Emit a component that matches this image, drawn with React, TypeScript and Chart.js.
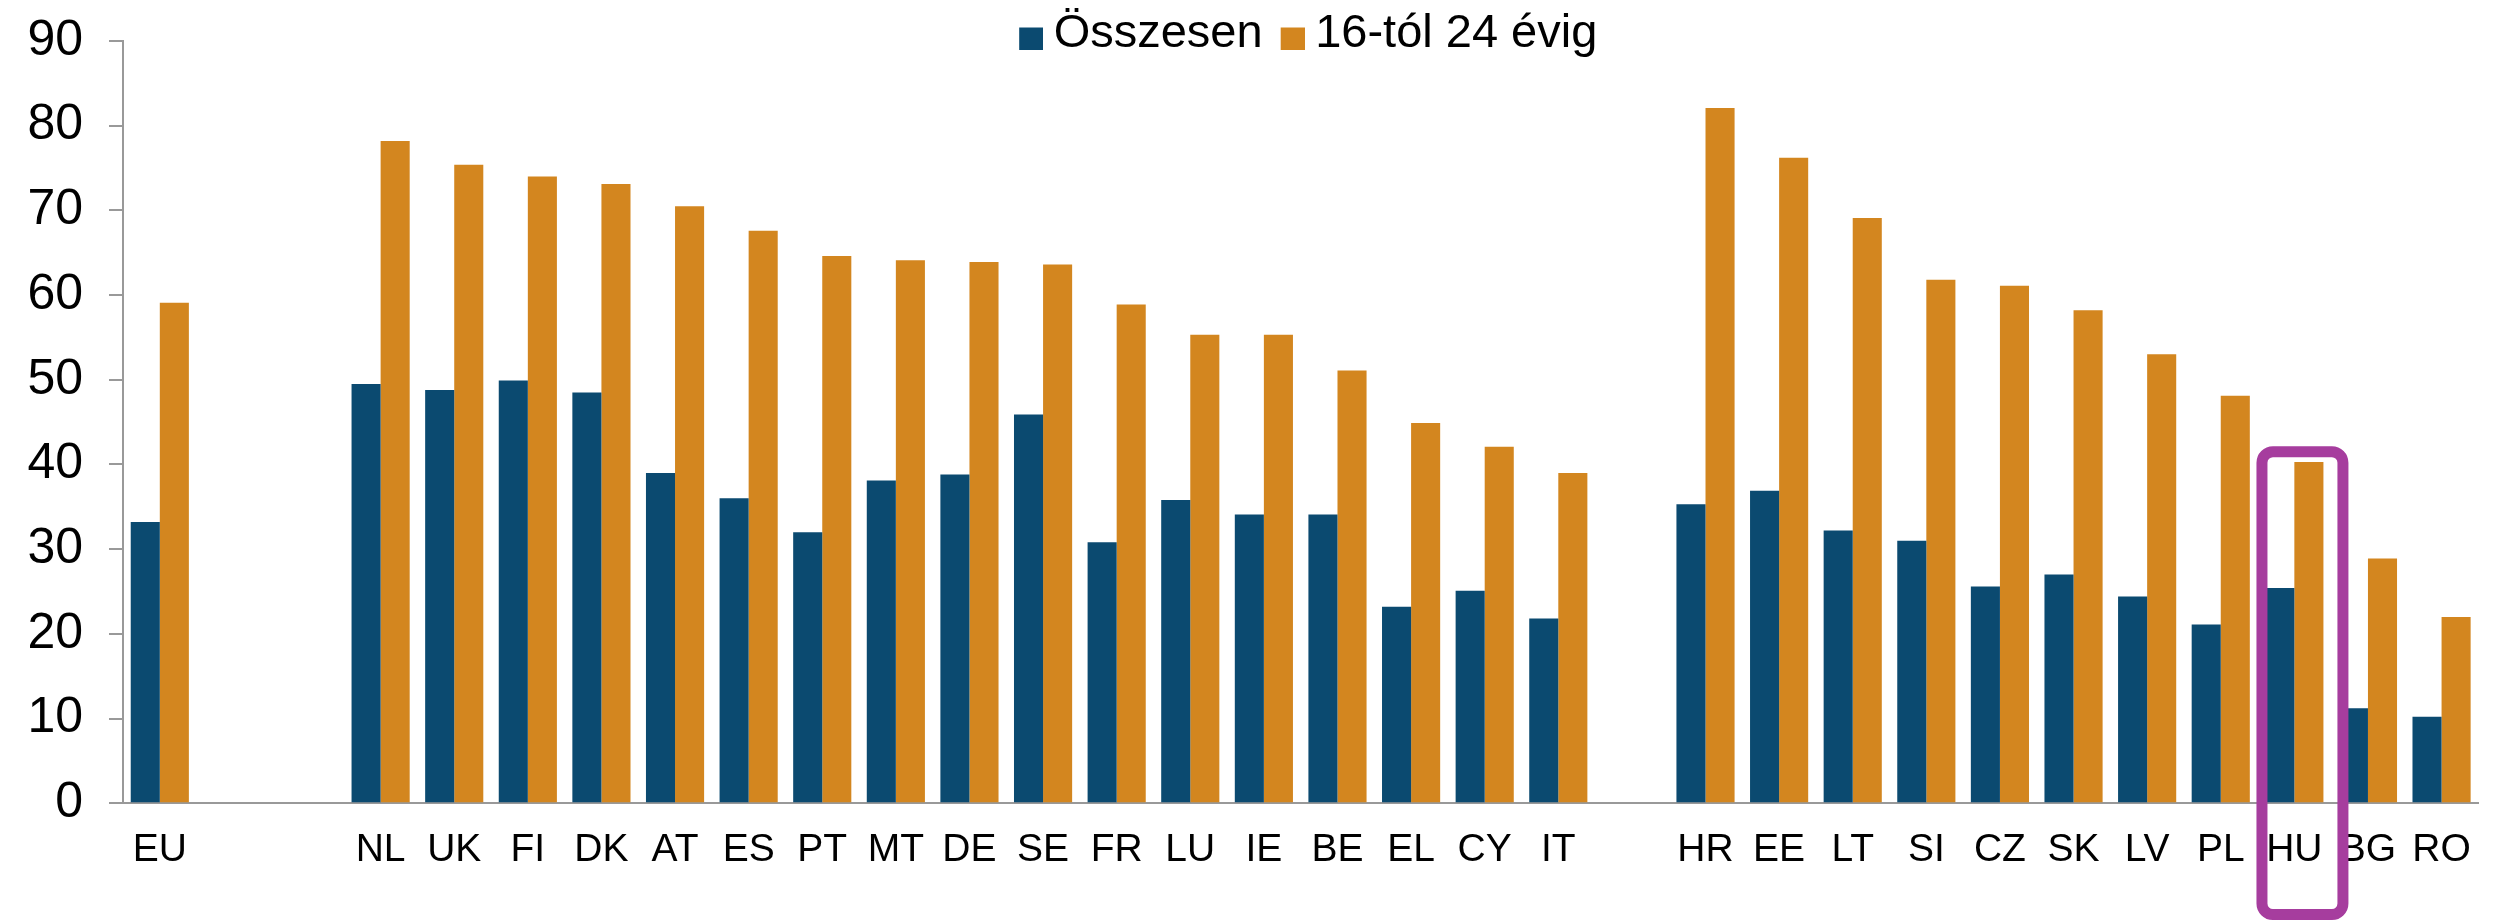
import React, { useEffect, useRef } from 'react';
import { Chart, registerables } from 'chart.js';

Chart.register(...registerables);

const categories = ['EU', '', '', 'NL', 'UK', 'FI', 'DK', 'AT', 'ES', 'PT', 'MT', 'DE', 'SE', 'FR', 'LU', 'IE', 'BE', 'EL', 'CY', 'IT', '', 'HR', 'EE', 'LT', 'SI', 'CZ', 'SK', 'LV', 'PL', 'HU', 'BG', 'RO'];
const totalValues = [33.2, null, null, 49.5, 48.8, 49.9, 48.5, 39.0, 36.0, 32.0, 38.1, 38.8, 45.9, 30.8, 35.8, 34.1, 34.1, 23.2, 25.1, 21.8, null, 35.3, 36.9, 32.2, 31.0, 25.6, 27.0, 24.4, 21.1, 25.4, 11.2, 10.2];
const youthValues = [59.1, null, null, 78.2, 75.4, 74.0, 73.1, 70.5, 67.6, 64.6, 64.1, 63.9, 63.6, 58.9, 55.3, 55.3, 51.1, 44.9, 42.1, 39.0, null, 82.1, 76.2, 69.1, 61.8, 61.1, 58.2, 53.0, 48.1, 40.3, 28.9, 22.0];
const seriesLabels = ['Összesen', '16-tól 24 évig'];
const seriesColors = ['#0B4A70', '#D3861F'];
const yMin = 0;
const yMax = 90;
const yStep = 10;
const highlightCategory = 'HU';

const FONT = "'Liberation Sans', Arial, sans-serif";

// legend swatch: a small square, drawn shifted right/down inside a transparent image
function makeSwatch(color: string) {
  const sw = 24;
  const sh = 22;
  const shiftX = 1.5;
  const shiftY = 4;
  const c = document.createElement('canvas');
  c.width = Math.round(sw + 2 * shiftX);
  c.height = Math.round(sh + 2 * shiftY);
  const g = c.getContext('2d') as CanvasRenderingContext2D;
  g.fillStyle = color;
  g.fillRect(c.width - sw, c.height - sh, sw, sh);
  return c;
}

const highlightPlugin = {
  id: 'highlightBox',
  afterDraw(chart: any) {
    const xs = chart.scales.x;
    const ys = chart.scales.y;
    const i = categories.indexOf(highlightCategory);
    if (i < 0) return;
    const w = xs.width / categories.length;
    const cx = xs.getPixelForValue(i);
    const left = cx - 0.44 * w;
    const right = cx + 0.66 * w;
    const top = ys.getPixelForValue((youthValues[i] as number) + 1.2);
    const bottom = chart.height - 6.5;
    const ctx = chart.ctx;
    ctx.save();
    ctx.strokeStyle = '#A63D9E';
    ctx.lineWidth = 11;
    ctx.beginPath();
    ctx.roundRect(left, top, right - left, bottom - top, 11);
    ctx.stroke();
    ctx.restore();
  },
};

function patchLegend(chart: any) {
  const lg = chart.legend;
  if (!lg || lg._patchedFit) return;
  const orig = lg.fit.bind(lg);
  lg.fit = function () {
    orig();
    this._realHeight = this.height;
    this.height = 0;
  };
  lg._patchedFit = true;
}

const legendPlacement = {
  id: 'legendPlacement',
  afterInit(chart: any) {
    patchLegend(chart);
  },
  beforeUpdate(chart: any) {
    patchLegend(chart);
  },
  afterLayout(chart: any) {
    const lg = chart.legend;
    if (!lg || !lg.lineWidths) return;
    const p = lg.options.labels.padding;
    const lw = lg.lineWidths[0];
    const start = (lg.left + p + lg.right - lw) / 2;
    const desiredCenter = 1300;
    const dx = desiredCenter - start - (lw - p - 10.5) / 2;
    const desiredRowY = 3;
    lg.left += dx;
    lg.right += dx;
    lg.top = desiredRowY - p;
    lg.bottom = lg.top + (lg._realHeight || 80) + p;
  },
};

export default function App() {
  const ref = useRef<HTMLCanvasElement | null>(null);

  useEffect(() => {
    if (!ref.current) return;
    const swatches = seriesColors.map(makeSwatch);
    const chart = new Chart(ref.current, {
      type: 'bar',
      data: {
        labels: categories,
        datasets: [
          {
            label: seriesLabels[0],
            data: totalValues,
            backgroundColor: seriesColors[0],
            borderWidth: 0,
            categoryPercentage: 0.79,
            barPercentage: 1.0,
          },
          {
            label: seriesLabels[1],
            data: youthValues,
            backgroundColor: seriesColors[1],
            borderWidth: 0,
            categoryPercentage: 0.79,
            barPercentage: 1.0,
          },
        ],
      },
      options: {
        responsive: false,
        animation: false,
        events: [],
        layout: { padding: { top: 33, right: 12, bottom: 23, left: 0 } },
        plugins: {
          tooltip: { enabled: false },
          title: { display: false },
          legend: {
            display: true,
            position: 'top',
            align: 'center',
            labels: {
              usePointStyle: true,
              boxWidth: 1,
              boxHeight: 22,
              padding: 28,
              color: '#000',
              font: { family: FONT, size: 47 },
              generateLabels(chart: any) {
                const items = (Chart.defaults as any).plugins.legend.labels.generateLabels(chart);
                return items.map((it: any) => ({ ...it, pointStyle: swatches[it.datasetIndex] }));
              },
            },
          },
        },
        scales: {
          x: {
            offset: true,
            grid: { display: false, drawTicks: false },
            border: { display: true, color: '#999', width: 2 },
            ticks: {
              color: '#000',
              padding: 24,
              maxRotation: 0,
              autoSkip: false,
              font: { family: FONT, size: 39 },
            },
          },
          y: {
            min: yMin,
            max: yMax,
            afterFit(scale: any) {
              scale.width = 115;
              scale.paddingTop = 0;
              scale.paddingBottom = 0;
            },
            grid: {
              display: true,
              drawOnChartArea: false,
              drawTicks: true,
              tickLength: 14,
              color: '#999',
              lineWidth: 2,
            },
            border: { display: true, color: '#999', width: 2 },
            ticks: {
              stepSize: yStep,
              color: '#000',
              padding: 26,
              font: { family: FONT, size: 50 },
            },
          },
        },
      },
      plugins: [legendPlacement, highlightPlugin],
    } as any);
    return () => chart.destroy();
  }, []);

  return (
    <div style={{ width: 2487, height: 913 }}>
      <canvas ref={ref} width={2487} height={913} style={{ display: 'block', width: 2487, height: 913 }} />
    </div>
  );
}
